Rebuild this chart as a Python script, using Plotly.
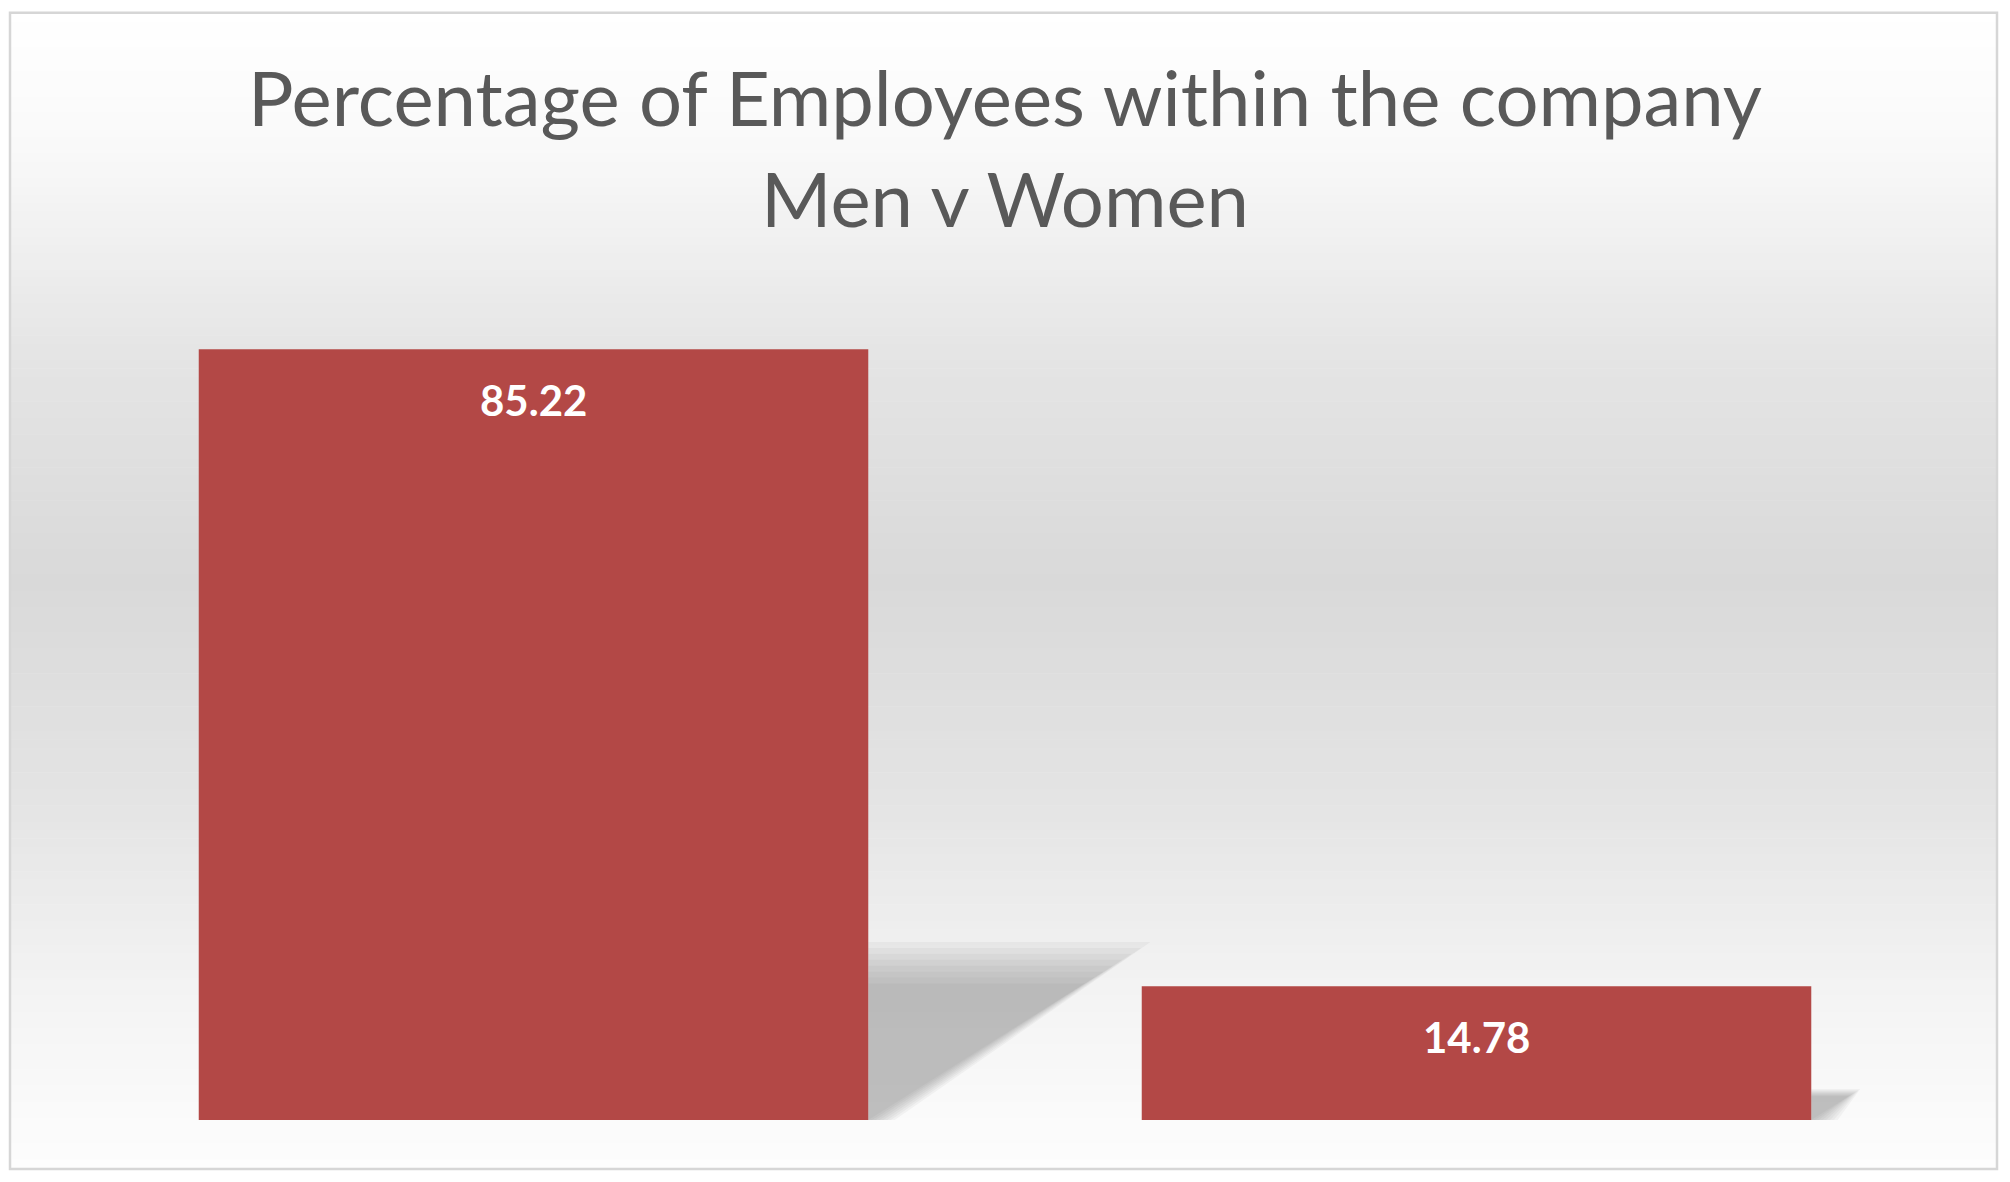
import numpy as np
import plotly.graph_objects as go

# data
categories = ["Men", "Women"]
percentages = [85.22, 14.78]
title_lines = ["Percentage of Employees within the company", "Men v Women"]

# the page puts the figure 8px in from the top-left corner
OFF = 8
W, H = 2010 - 2 * OFF, 1182 - 2 * OFF
ml, mr, mt, mb = 54, 54, 297.5, 54
y_max = 90
bar_gap = 0.29

bar_color = "#b34846"
title_color = "#595959"


def px_x(px):
    # screen pixel -> paper x
    return (px - OFF - ml) / (W - ml - mr)


def px_y(py):
    # screen pixel (from top) -> paper y
    return (H - mb - (py - OFF)) / (H - mt - mb)


fig = go.Figure()
fig.add_trace(go.Bar(
    x=categories, y=percentages,
    marker=dict(color=bar_color, line=dict(width=0)),
    hoverinfo="x+y",
))

shapes = []

# background: vertical grey gradient inside the chart border
stops_py = [13, 150, 350, 580, 800, 1000, 1168]
stops_gray = [255, 249, 229, 217, 228, 244, 253]
n = 140
edges = np.linspace(13, 1168, n + 1)
for i in range(n):
    mid = (edges[i] + edges[i + 1]) / 2
    g = int(round(np.interp(mid, stops_py, stops_gray)))
    shapes.append(dict(
        type="rect", xref="paper", yref="paper", layer="below",
        x0=px_x(11), x1=px_x(1996), y0=px_y(edges[i + 1] + 0.6), y1=px_y(edges[i]),
        fillcolor=f"rgb({g},{g},{g})", line=dict(width=0),
    ))

# border
shapes.append(dict(
    type="rect", xref="paper", yref="paper", layer="below",
    x0=px_x(10), x1=px_x(1997), y0=px_y(1169), y1=px_y(12),
    fillcolor="rgba(0,0,0,0)", line=dict(color="#d6d6d6", width=2.5),
))

# soft perspective shadows behind the bars (derived from bar values)
half = (1 - bar_gap) / 2
rise = 0.22
slant = 0.0152
for i, v in enumerate(percentages):
    h = v * rise
    xr = i + half
    for k in range(8):
        grow = 1.05 - 0.035 * k
        hh = h * grow
        dx = hh * slant
        path = f"M {xr},0 L {xr},{hh} L {xr + dx},{hh} L {xr + 0.004 * (7 - k)},0 Z"
        shapes.append(dict(
            type="path", xref="x", yref="y", layer="below", path=path,
            fillcolor="rgba(110,110,110,0.06)", line=dict(width=0),
        ))

annotations = []
for c, v in zip(categories, percentages):
    annotations.append(dict(
        x=c, y=v, xref="x", yref="y", text=f"<b>{v:.2f}</b>",
        showarrow=False, yanchor="middle", yshift=-51,
        font=dict(family="Lato", size=42, color="white"),
    ))

# title, one annotation per line
for line, cy in zip(title_lines, [96, 197]):
    annotations.append(dict(
        x=0.5, y=px_y(cy), xref="paper", yref="paper", text=line,
        showarrow=False, xanchor="center", yanchor="middle",
        font=dict(family="Lato", size=76, color=title_color),
    ))

fig.update_layout(
    width=W, height=H,
    margin=dict(l=ml, r=mr, t=mt, b=mb),
    paper_bgcolor="white",
    plot_bgcolor="rgba(0,0,0,0)",
    bargap=bar_gap,
    showlegend=False,
    xaxis=dict(visible=False, range=[-0.5, 1.5]),
    yaxis=dict(visible=False, range=[0, y_max]),
    shapes=shapes,
    annotations=annotations,
)

fig.write_html("out.html")
